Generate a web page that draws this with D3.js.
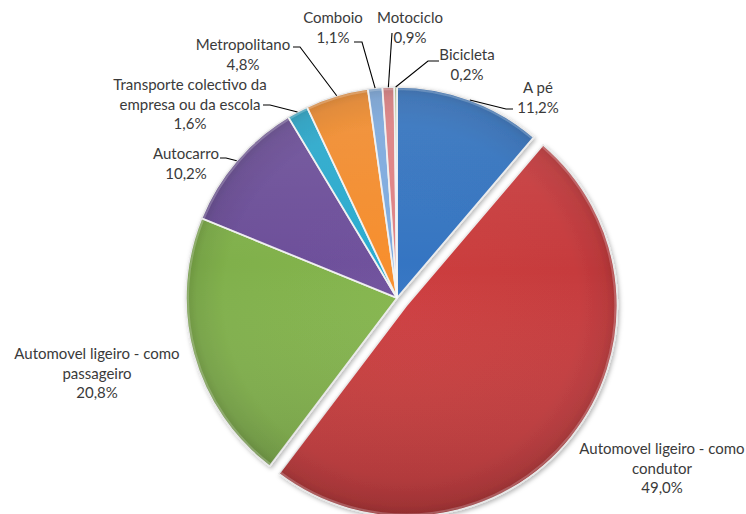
<!DOCTYPE html>
<html>
<head>
<meta charset="utf-8">
<script src="https://cdn.jsdelivr.net/npm/d3@7/dist/d3.min.js"></script>
<style>
  html, body { margin: 0; padding: 0; background: #ffffff; }
  svg { display: block; }
  text { font-family: Lato, "Open Sans", sans-serif; font-size: 15px; fill: #3a3a3a; }
</style>
</head>
<body>
<svg id="chart" width="746" height="514"></svg>
<script>
// Modo de deslocação (percentagem)
const categories = [
  "A pé",
  "Automovel ligeiro - como condutor",
  "Automovel ligeiro - como passageiro",
  "Autocarro",
  "Transporte colectivo da empresa ou da escola",
  "Metropolitano",
  "Comboio",
  "Motociclo",
  "Bicicleta"
];
const values = [11.2, 49.0, 20.8, 10.2, 1.6, 4.8, 1.1, 0.9, 0.2];
const valueLabels = ["11,2%", "49,0%", "20,8%", "10,2%", "1,6%", "4,8%", "1,1%", "0,9%", "0,2%"];

// Presentation
const colors = ["#3372bd", "#c63b3d", "#80b04b", "#6c4f98", "#2aa8cb", "#f08b2d", "#7ca8db", "#db7f81", "#98b06c"];
const explode = [0, 12, 0, 0, 0, 0, 0, 0, 0];

// Label layout: wrapped lines, centre x, first line y, leader (start, elbow) or null
const labelLayout = [
  { lines: ["A pé"], x: 538, y: 89, leader: [[513, 109], [506, 109]] },
  { lines: ["Automovel ligeiro - como", "condutor"], x: 662, y: 450, leader: null },
  { lines: ["Automovel ligeiro - como", "passageiro"], x: 97, y: 355, leader: null },
  { lines: ["Autocarro"], x: 186, y: 155, leader: [[220, 158], [226, 158]] },
  { lines: ["Transporte colectivo da", "empresa ou da escola"], x: 190, y: 86, leader: [[263, 105], [270, 105]] },
  { lines: ["Metropolitano"], x: 243, y: 46, leader: [[293, 47], [300, 47]] },
  { lines: ["Comboio"], x: 333, y: 19, leader: [[354, 42], [362, 42]] },
  { lines: ["Motociclo"], x: 410, y: 19, leader: [[392, 33], [392, 33]] },
  { lines: ["Bicicleta"], x: 467, y: 56, leader: [[439, 61], [428, 61]] }
];

const cx = 397, cy = 298, radius = 211, lineH = 19.5;

const svg = d3.select("#chart");
const defs = svg.append("defs");

// soft shadow under the pie
const shadow = defs.append("filter").attr("id", "shadow")
  .attr("x", "-10%").attr("y", "-10%").attr("width", "120%").attr("height", "120%");
shadow.append("feDropShadow").attr("dx", 1.5).attr("dy", 2).attr("stdDeviation", 2)
  .attr("flood-color", "#000").attr("flood-opacity", 0.28);

// one shaded gradient per slice for a bevelled look
colors.forEach((c, i) => {
  const base = d3.color(c);
  const g = defs.append("radialGradient").attr("id", "grad" + i)
    .attr("gradientUnits", "userSpaceOnUse")
    .attr("cx", 0).attr("cy", 0).attr("r", radius);
  g.append("stop").attr("offset", "0%").attr("stop-color", base.brighter(0.1));
  g.append("stop").attr("offset", "82%").attr("stop-color", base);
  g.append("stop").attr("offset", "95%").attr("stop-color", base.darker(0.2));
  g.append("stop").attr("offset", "100%").attr("stop-color", base.darker(0.5));
});

// top-down light: brighter at the top, darker toward the bottom
const vshade = defs.append("linearGradient").attr("id", "vshade")
  .attr("gradientUnits", "userSpaceOnUse")
  .attr("x1", 0).attr("y1", -radius).attr("x2", 0).attr("y2", radius + 20);
vshade.append("stop").attr("offset", "0%").attr("stop-color", "#fff").attr("stop-opacity", 0.1);
vshade.append("stop").attr("offset", "40%").attr("stop-color", "#fff").attr("stop-opacity", 0);
vshade.append("stop").attr("offset", "100%").attr("stop-color", "#000").attr("stop-opacity", 0.18);

const pie = d3.pie().sort(null).value(d => d.value);
const data = categories.map((name, i) => ({ name, value: values[i], i }));
const arcs = pie(data);

const arc = d3.arc().innerRadius(0).outerRadius(radius);
const rim = d3.arc().innerRadius(radius).outerRadius(radius);

const pieG = svg.append("g").attr("transform", `translate(${cx},${cy})`).attr("filter", "url(#shadow)");

const offset = d => {
  const a = (d.startAngle + d.endAngle) / 2;
  const o = explode[d.data.i];
  return `translate(${o * Math.sin(a)},${-o * Math.cos(a)})`;
};

pieG.selectAll("path.slice")
  .data(arcs)
  .join("path")
  .attr("class", "slice")
  .attr("transform", offset)
  .attr("d", arc)
  .attr("fill", d => `url(#grad${d.data.i})`)
  .attr("stroke", "#e8e8e8")
  .attr("stroke-width", 1.6)
  .attr("stroke-linejoin", "round");

const overlay = svg.append("g").attr("transform", `translate(${cx},${cy})`);

overlay.selectAll("path.shade")
  .data(arcs)
  .join("path")
  .attr("class", "shade")
  .attr("transform", offset)
  .attr("d", d3.arc().innerRadius(0).outerRadius(radius - 0.8))
  .attr("fill", "url(#vshade)");

// subtle highlight along each slice's inner edge
overlay.selectAll("path.hl")
  .data(arcs)
  .join("path")
  .attr("class", "hl")
  .attr("transform", offset)
  .attr("d", d3.arc().innerRadius(0).outerRadius(radius - 2))
  .attr("fill", "none")
  .attr("stroke", "#ffffff")
  .attr("stroke-opacity", 0.22)
  .attr("stroke-width", 2);

// leader lines
const leaders = svg.append("g").attr("fill", "none").attr("stroke", "#000").attr("stroke-width", 1.1);
arcs.forEach(d => {
  const L = labelLayout[d.data.i];
  if (!L.leader) return;
  const p = rim.centroid(d);
  const target = [cx + p[0], cy + p[1]];
  leaders.append("path").attr("d", d3.line()([L.leader[0], L.leader[1], target]));
});

// labels
const labels = svg.append("g");
arcs.forEach(d => {
  const L = labelLayout[d.data.i];
  const t = labels.append("text").attr("text-anchor", "middle").attr("dominant-baseline", "middle");
  L.lines.concat([valueLabels[d.data.i]]).forEach((s, k) => {
    t.append("tspan").attr("x", L.x).attr("y", L.y + k * lineH).text(s);
  });
});
</script>
</body>
</html>
